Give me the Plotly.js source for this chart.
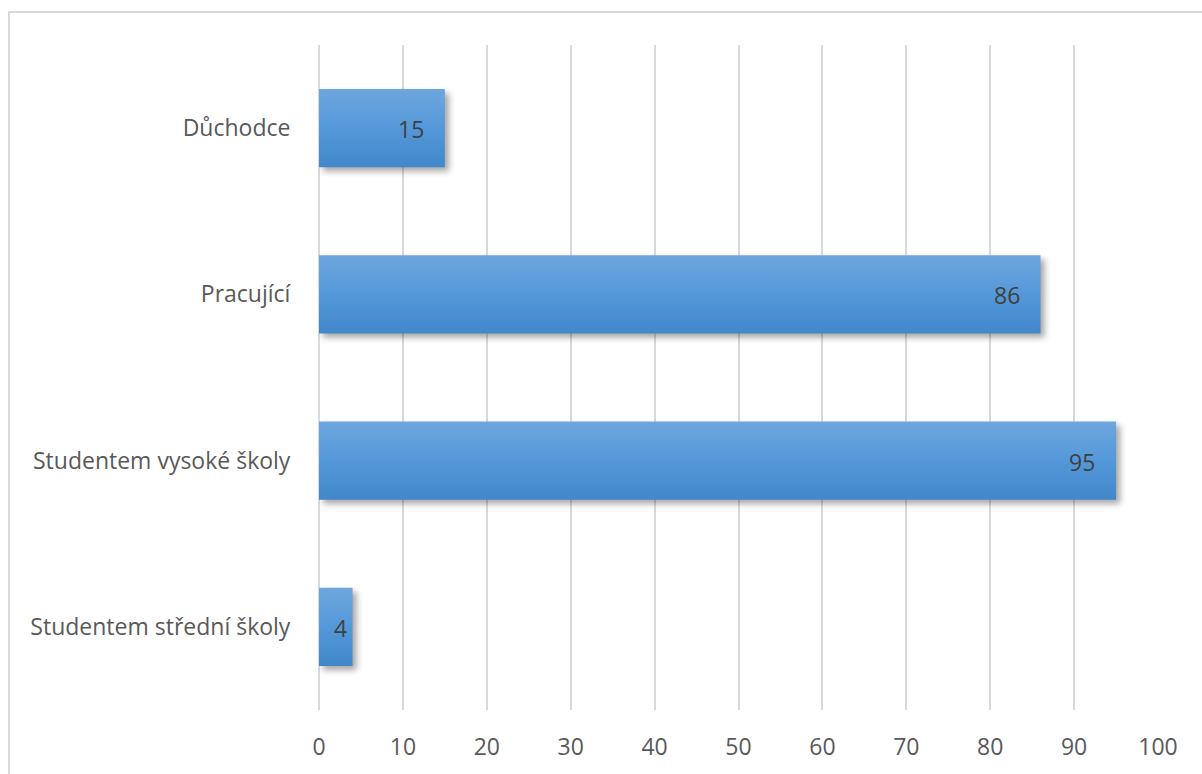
<!DOCTYPE html>
<html>
<head>
<meta charset="utf-8">
<script src="https://cdn.plot.ly/plotly-3.0.1.min.js"></script>
<style>
  html, body { margin: 0; padding: 0; background: #fff; }
  #wrap { position: relative; width: 1202px; height: 774px; overflow: hidden; }
  #frame { position: absolute; left: 8px; top: 11px; width: 1200px; height: 800px; border: 2px solid #d9d9d9; box-sizing: border-box; pointer-events: none; }
  #chart { position: absolute; left: 0; top: 0; width: 1202px; height: 774px; }
  .bars path { filter: drop-shadow(4px 4px 3px rgba(0,0,0,0.35)); }
</style>
</head>
<body>
<div id="wrap">
  <div id="chart"></div>
  <div id="frame"></div>
</div>
<script>
const categories = ["Studentem střední školy", "Studentem vysoké školy", "Pracující", "Důchodce"];
const values = [4, 95, 86, 15];
const xTicks = [0, 10, 20, 30, 40, 50, 60, 70, 80, 90, 100];

const font = "'Open Sans', 'Liberation Sans', Arial, sans-serif";
const plotWidthPx = 1202 - 319 - 44;

const trace = {
  type: "bar",
  orientation: "h",
  y: categories,
  x: values,
  marker: { color: "#5699d8", line: { width: 0 } },
  hoverinfo: "skip"
};

const annotations = categories.map((c, i) => {
  const barPx = values[i] / 100 * plotWidthPx;
  return {
    x: values[i], y: c, xref: "x", yref: "y",
    text: String(values[i]),
    showarrow: false, xanchor: "right",
    xshift: barPx < 50 ? -4 : -19, yshift: -1,
    font: { family: font, size: 23, color: "#404040" }
  };
});

const layout = {
  width: 1202, height: 774,
  margin: { l: 319, r: 44, t: 45, b: 64 },
  paper_bgcolor: "rgba(0,0,0,0)",
  plot_bgcolor: "rgba(0,0,0,0)",
  bargap: 0.53,
  showlegend: false,
  xaxis: {
    range: [0, 100],
    tickvals: xTicks,
    ticktext: xTicks.map(String),
    showgrid: true, gridcolor: "#d9d9d9", gridwidth: 2,
    zeroline: true, zerolinecolor: "#d9d9d9", zerolinewidth: 2,
    showline: false,
    ticks: "outside", ticklen: 16, tickcolor: "rgba(0,0,0,0)",
    tickfont: { family: font, size: 23, color: "#595959" },
    fixedrange: true
  },
  yaxis: {
    type: "category",
    categoryorder: "array", categoryarray: categories,
    showgrid: false, zeroline: false, showline: false,
    ticks: "outside", ticklen: 23, tickcolor: "rgba(0,0,0,0)",
    tickfont: { family: font, size: 23, color: "#595959" },
    fixedrange: true
  },
  annotations: annotations
};

Plotly.newPlot("chart", [trace], layout, { staticPlot: true, displayModeBar: false }).then(gd => {
  const svg = gd.querySelector("svg.main-svg");
  const ns = "http://www.w3.org/2000/svg";
  let defs = svg.querySelector("defs");
  if (!defs) { defs = document.createElementNS(ns, "defs"); svg.insertBefore(defs, svg.firstChild); }
  const grad = document.createElementNS(ns, "linearGradient");
  grad.setAttribute("id", "barGrad");
  grad.setAttribute("x1", "0"); grad.setAttribute("y1", "0");
  grad.setAttribute("x2", "0"); grad.setAttribute("y2", "1");
  [["0%", "#6ea6dd"], ["50%", "#5598da"], ["100%", "#4187ca"]].forEach(([o, c]) => {
    const s = document.createElementNS(ns, "stop");
    s.setAttribute("offset", o); s.setAttribute("stop-color", c);
    grad.appendChild(s);
  });
  defs.appendChild(grad);
  gd.querySelectorAll(".bars path").forEach(p => { p.style.fill = "url(#barGrad)"; });
});
</script>
</body>
</html>
